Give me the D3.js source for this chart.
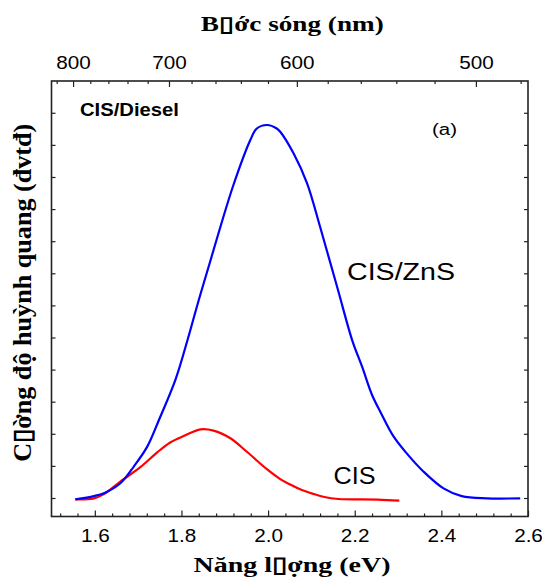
<!DOCTYPE html>
<html>
<head>
<meta charset="utf-8">
<script src="https://cdn.jsdelivr.net/npm/d3@7"></script>
<style>
  body { margin: 0; background: #fff; }
  svg text { fill: #000; }
</style>
</head>
<body>
<svg id="chart" width="542" height="579"></svg>
<script>
// Photoluminescence spectra, energy in eV, intensity in arbitrary units
const energyCIS    = [1.555, 1.598, 1.621, 1.659, 1.705, 1.744, 1.774, 1.805, 1.844, 1.874, 1.913, 1.951, 1.998, 2.028, 2.051, 2.074, 2.104, 2.130, 2.162, 2.252, 2.303];
const intensityCIS = [-0.04, -0.01, 0.12, 0.51, 0.96, 1.42, 1.73, 1.93, 2.14, 2.10, 1.86, 1.44, 0.89, 0.59, 0.42, 0.27, 0.13, 0.03, -0.03, -0.05, -0.08];

const energyZnS    = [1.555, 1.598, 1.621, 1.659, 1.690, 1.721, 1.748, 1.786, 1.814, 1.840, 1.867, 1.890, 1.920, 1.959, 1.974, 1.998, 2.020, 2.028, 2.059, 2.090, 2.120, 2.144, 2.163, 2.194, 2.217, 2.240, 2.259, 2.290, 2.320, 2.359, 2.405, 2.447, 2.505, 2.582];
const intensityZnS = [-0.04, 0.06, 0.15, 0.46, 0.98, 1.60, 2.43, 3.68, 4.92, 6.17, 7.40, 8.45, 9.75, 11.15, 11.51, 11.62, 11.51, 11.41, 10.73, 9.80, 8.45, 7.31, 6.40, 4.92, 4.09, 3.21, 2.69, 1.91, 1.39, 0.82, 0.30, 0.06, -0.01, -0.01];

// Axis ticks
const energyTicks      = [1.6, 1.8, 2.0, 2.2, 2.4, 2.6];
const energyMinorTicks = [1.52, 1.56, 1.64, 1.68, 1.72, 1.76, 1.84, 1.88, 1.92, 1.96, 2.04, 2.08, 2.12, 2.16, 2.24, 2.28, 2.32, 2.36, 2.44, 2.48, 2.52, 2.56];
const wavelengthTicks      = [800, 700, 600, 500];
const wavelengthMinorTicks = [820, 780, 760, 740, 720, 680, 660, 640, 620, 580, 560, 540, 520, 480];
const intensityTicks = [0, 1, 2, 3, 4, 5, 6, 7, 8, 9, 10, 11, 12];

const HC = 1239.84; // eV·nm

const svg = d3.select("#chart");
const plotLeft = 51.5, plotRight = 528, plotTop = 81, plotBottom = 516.5;

const x = d3.scaleLinear().domain([1.5, 2.6]).range([plotLeft, plotRight]);
const y = d3.scaleLinear().domain([-0.576, 12.99]).range([plotBottom, plotTop]);

const sans = "'Liberation Sans', Arial, sans-serif";
const serif = "'Liberation Serif', 'Times New Roman', serif";

// Bottom axis: energy
const gBottom = svg.append("g").attr("transform", `translate(0,${plotBottom})`);
gBottom.append("g")
  .call(d3.axisBottom(x).tickValues(energyMinorTicks).tickSizeInner(-3).tickSizeOuter(0).tickFormat(""));
gBottom.append("g")
  .call(d3.axisBottom(x).tickValues(energyTicks).tickSizeInner(-6).tickSizeOuter(0)
        .tickPadding(12.5).tickFormat(d3.format(".1f")));

// Top axis: wavelength, placed at the matching photon energies
const gTop = svg.append("g").attr("transform", `translate(0,${plotTop})`);
gTop.append("g")
  .call(d3.axisTop(x).tickValues(wavelengthMinorTicks.map(l => HC / l)).tickSizeInner(-3).tickSizeOuter(0).tickFormat(""));
gTop.append("g")
  .call(d3.axisTop(x).tickValues(wavelengthTicks.map(l => HC / l)).tickSizeInner(-6).tickSizeOuter(0)
        .tickPadding(11.7).tickFormat(e => String(Math.round(HC / e))));

// Left and right intensity ticks, no labels
svg.append("g").attr("transform", `translate(${plotLeft},0)`)
  .call(d3.axisLeft(y).tickValues(intensityTicks).tickSizeInner(-4).tickSizeOuter(0).tickFormat(""));
svg.append("g").attr("transform", `translate(${plotRight},0)`)
  .call(d3.axisRight(y).tickValues(intensityTicks).tickSizeInner(-4).tickSizeOuter(0).tickFormat(""));

svg.selectAll(".domain").remove();
svg.selectAll(".tick line").attr("stroke", "#222").attr("stroke-width", 1.2);
svg.selectAll(".tick text")
  .attr("font-family", sans)
  .attr("font-size", 18)
  .attr("transform", "scale(1.15,1)");

// Frame
svg.append("rect")
  .attr("x", plotLeft).attr("y", plotTop)
  .attr("width", plotRight - plotLeft).attr("height", plotBottom - plotTop)
  .attr("fill", "none").attr("stroke", "#222").attr("stroke-width", 1.6);

// Spectra
const line = d3.line().x(d => x(d[0])).y(d => y(d[1])).curve(d3.curveCatmullRom.alpha(0.5));
svg.append("path")
  .datum(d3.zip(energyCIS, intensityCIS))
  .attr("d", line).attr("fill", "none").attr("stroke", "#ff0000").attr("stroke-width", 2.2);
svg.append("path")
  .datum(d3.zip(energyZnS, intensityZnS))
  .attr("d", line).attr("fill", "none").attr("stroke", "#0000ff").attr("stroke-width", 2.2);

// Labels
function label(txt, x0, y0, size, len, opts = {}) {
  return svg.append("text")
    .attr("x", x0).attr("y", y0)
    .attr("font-family", opts.family || sans)
    .attr("font-weight", opts.weight || "normal")
    .attr("font-size", size)
    .attr("textLength", len)
    .attr("lengthAdjust", "spacingAndGlyphs")
    .text(txt);
}

label("CIS/Diesel", 80, 116, 18, 99, { weight: "bold" });
label("(a)", 432, 135, 16, 25);
label("CIS/ZnS", 347, 280, 23, 108);
label("CIS", 333.5, 484, 24, 42);

// Axis titles
label("B\u25AFớc sóng (nm)", 200.7, 31.3, 21, 183, { family: serif, weight: "bold" });
label("Năng l\u25AFợng (eV)", 193.5, 572, 22, 197, { family: serif, weight: "bold" });

svg.append("text")
  .attr("transform", "translate(31,461.7) rotate(-90)")
  .attr("font-family", serif)
  .attr("font-weight", "bold")
  .attr("font-size", 26)
  .attr("textLength", 338)
  .attr("lengthAdjust", "spacingAndGlyphs")
  .text("C\u25AFờng độ huỳnh quang (đvtđ)");
</script>
</body>
</html>
